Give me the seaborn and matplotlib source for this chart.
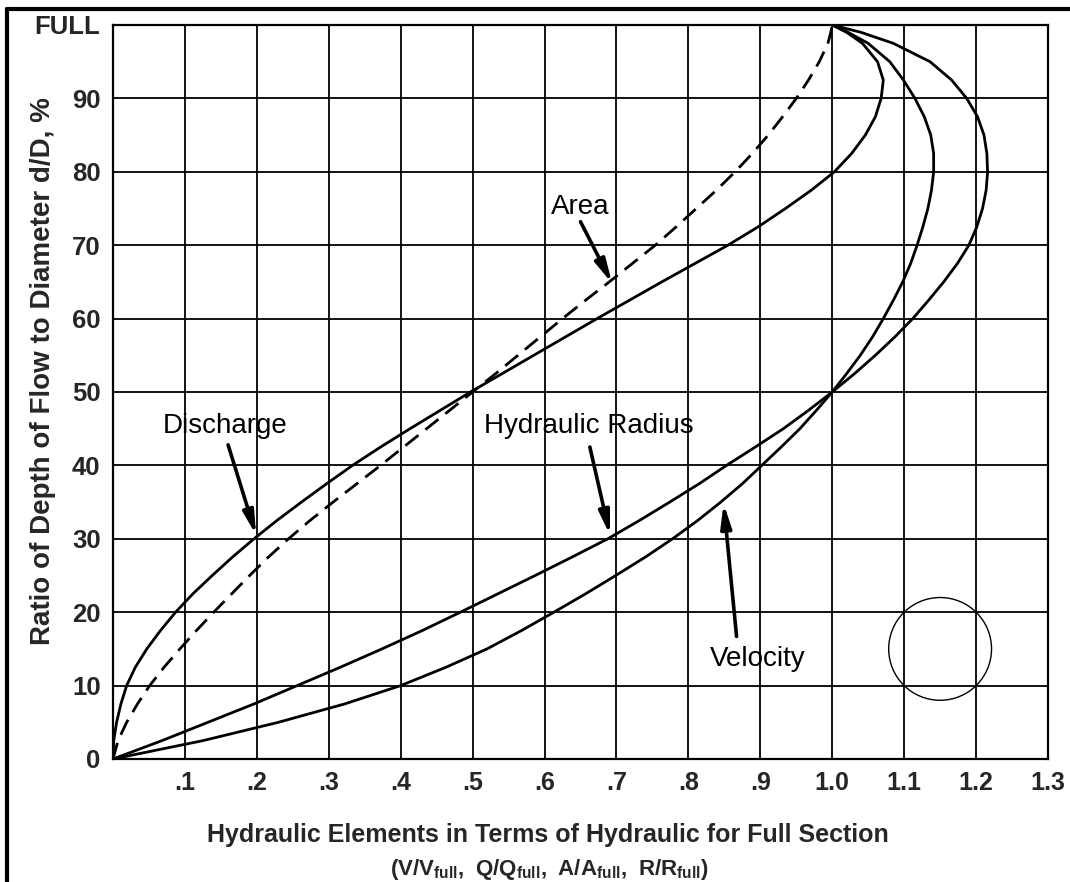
import matplotlib
matplotlib.use("Agg")
import matplotlib.pyplot as plt
from matplotlib.lines import Line2D
from matplotlib.patches import Ellipse
import pandas as pd
import seaborn as sns

# ---- hydraulic elements of a circular pipe flowing partly full ----
# depth of flow as percent of diameter
depth = [0, 2.5, 5, 7.5, 10, 12.5, 15, 17.5, 20, 22.5, 25, 27.5, 30, 32.5, 35, 37.5, 40, 42.5,
         45, 47.5, 50, 52.5, 55, 57.5, 60, 62.5, 65, 67.5, 70, 72.5, 75, 77.5, 80, 82.5, 85,
         87.5, 90, 92.5, 95, 97.5, 99, 100]

# ratios to the full-section values at each depth
discharge = [0, 0.001, 0.005, 0.011, 0.019, 0.031, 0.047, 0.066, 0.087, 0.111, 0.138, 0.166,
             0.196, 0.228, 0.262, 0.297, 0.333, 0.372, 0.413, 0.455, 0.497, 0.541, 0.585,
             0.629, 0.673, 0.718, 0.763, 0.809, 0.855, 0.897, 0.935, 0.971, 1.003, 1.027,
             1.046, 1.06, 1.068, 1.071, 1.063, 1.042, 1.02, 1.0]
area = [0, 0.007, 0.019, 0.034, 0.051, 0.071, 0.093, 0.116, 0.14, 0.165, 0.19, 0.216, 0.244,
        0.274, 0.306, 0.339, 0.372, 0.404, 0.436, 0.468, 0.5, 0.532, 0.563, 0.594, 0.625,
        0.657, 0.69, 0.722, 0.754, 0.783, 0.811, 0.839, 0.865, 0.889, 0.911, 0.931, 0.95,
        0.967, 0.982, 0.994, 0.998, 1.0]
hydraulic_radius = [0, 0.068, 0.132, 0.196, 0.256, 0.316, 0.374, 0.43, 0.483, 0.535, 0.587,
                    0.638, 0.688, 0.732, 0.774, 0.815, 0.853, 0.893, 0.932, 0.967, 1.0, 1.031,
                    1.06, 1.087, 1.112, 1.134, 1.155, 1.174, 1.19, 1.201, 1.209, 1.214, 1.216,
                    1.215, 1.211, 1.202, 1.187, 1.166, 1.136, 1.085, 1.04, 1.0]
velocity = [0, 0.125, 0.23, 0.322, 0.40, 0.463, 0.52, 0.568, 0.613, 0.657, 0.699, 0.74, 0.778,
            0.813, 0.845, 0.875, 0.902, 0.929, 0.955, 0.978, 1.0, 1.02, 1.039, 1.056, 1.071,
            1.085, 1.098, 1.109, 1.118, 1.126, 1.133, 1.138, 1.141, 1.141, 1.137, 1.128,
            1.115, 1.099, 1.08, 1.05, 1.022, 1.0]

x_ticks = [0.1, 0.2, 0.3, 0.4, 0.5, 0.6, 0.7, 0.8, 0.9, 1.0, 1.1, 1.2, 1.3]
x_tick_labels = [".1", ".2", ".3", ".4", ".5", ".6", ".7", ".8", ".9", "1.0", "1.1", "1.2", "1.3"]
y_ticks = [0, 10, 20, 30, 40, 50, 60, 70, 80, 90, 100]
y_tick_labels = ["0", "10", "20", "30", "40", "50", "60", "70", "80", "90", "FULL"]

# curve labels: text, text position, arrow tail, arrow tip (data units)
callouts = [
    ("Area", (0.650, 75.2), (0.650, 73.2), (0.694, 64.8)),
    ("Discharge", (0.156, 45.4), (0.160, 42.8), (0.199, 30.5)),
    ("Hydraulic Radius", (0.661, 45.4), (0.663, 42.5), (0.691, 30.5)),
    ("Velocity", (0.897, 13.6), (0.867, 16.7), (0.849, 34.8)),
]

# cross-section symbol
circle_center = (1.15, 15)
circle_size = (0.143, 14.0)

sns.set_theme(style="white")
plt.rcParams["font.family"] = ["Liberation Sans", "DejaVu Sans"]
plt.rcParams["mathtext.fontset"] = "custom"
plt.rcParams["mathtext.rm"] = "Liberation Sans"
plt.rcParams["mathtext.bf"] = "Liberation Sans:bold"

fig = plt.figure(figsize=(10.7, 8.82), dpi=100)
fig.patch.set_facecolor("white")
ax = fig.add_axes([113 / 1070, 1 - 759 / 882, 935 / 1070, 734 / 882])

elements = pd.DataFrame({"depth": depth, "discharge": discharge, "area": area,
                         "radius": hydraulic_radius, "velocity": velocity})

curve_kw = dict(data=elements, y="depth", color="black", linewidth=2.0, orient="y",
                estimator=None, ax=ax)
sns.lineplot(x="discharge", **curve_kw)
sns.lineplot(x="radius", **curve_kw)
sns.lineplot(x="velocity", **curve_kw)
sns.lineplot(x="area", linestyle=(0, (6, 3.2)), **curve_kw)

ax.set_xlim(0, 1.3)
ax.set_ylim(0, 100)
ax.set_xticks(x_ticks)
ax.set_xticklabels(x_tick_labels, fontsize=18, fontweight="bold")
ax.set_yticks(y_ticks)
ax.set_yticklabels(y_tick_labels, fontsize=18.5, fontweight="bold")
ax.tick_params(axis="both", which="both", length=0)
ax.tick_params(axis="x", pad=9)
ax.tick_params(axis="y", pad=9)
ax.grid(True, which="major", axis="both", color="black", linewidth=1.3)
ax.set_axisbelow(True)
for side in ax.spines.values():
    side.set_color("black")
    side.set_linewidth(1.6)
ax.set_xlabel("")
ax.set_ylabel("")

for label, text_xy, tail, tip in callouts:
    ax.text(*text_xy, label, fontsize=20, ha="center", va="center", color="black")
    ax.annotate("", xy=tip, xytext=tail,
                arrowprops=dict(arrowstyle="-|>,head_length=0.7,head_width=0.16",
                                color="black", lw=2.6, shrinkA=0, shrinkB=0,
                                mutation_scale=20))

ax.add_patch(Ellipse(circle_center, *circle_size, fill=False, edgecolor="black", linewidth=1.0))

ax.text(0.465, -0.1035, "Hydraulic Elements in Terms of Hydraulic for Full Section",
        transform=ax.transAxes, ha="center", va="center", fontsize=18, fontweight="bold")
ax.text(0.467, -0.151, r"$\mathbf{(V/V_{full},\ Q/Q_{full},\ A/A_{full},\ R/R_{full})}$",
        transform=ax.transAxes, ha="center", va="center", fontsize=16)
ax.text(-0.0749, 0.5286, "Ratio of Depth of Flow to Diameter d/D, %", transform=ax.transAxes,
        rotation=90, ha="center", va="center", fontsize=20, fontweight="bold")

# page frame along the top and left edges
fig.add_artist(Line2D([7 / 1070, 1], [1 - 9 / 882, 1 - 9 / 882], transform=fig.transFigure,
                      color="black", linewidth=3))
fig.add_artist(Line2D([7 / 1070, 7 / 1070], [0, 1 - 9 / 882], transform=fig.transFigure,
                      color="black", linewidth=3))

fig.savefig("out.png", dpi=100, facecolor="white")
